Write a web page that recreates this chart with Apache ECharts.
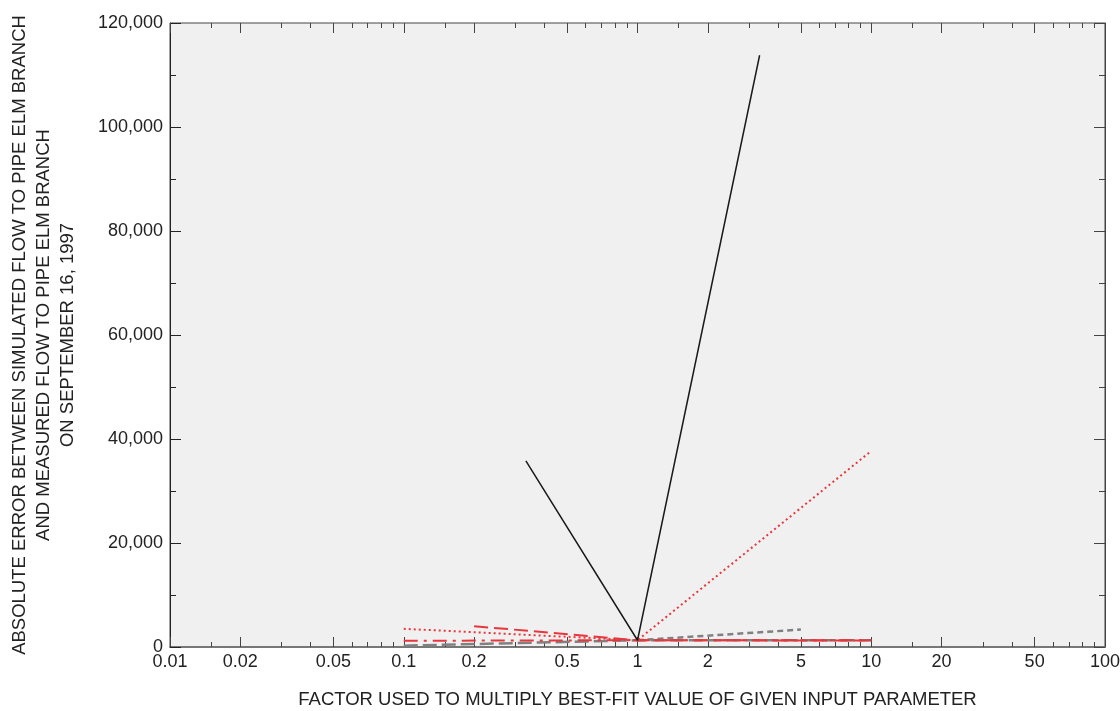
<!DOCTYPE html>
<html><head><meta charset="utf-8">
<script src="https://cdn.jsdelivr.net/npm/echarts@6/dist/echarts.min.js"></script>
<style>html,body{margin:0;padding:0;background:#fff}#c{width:1120px;height:711px}</style>
</head><body><div id="c"></div>
<script>
// ---- data ----
const majorTickLabels = [0.01, 0.02, 0.05, 0.1, 0.2, 0.5, 1, 2, 5, 10, 20, 50, 100];
const minorTicks = [0.015,0.03,0.04,0.06,0.07,0.08,0.09,0.15,0.3,0.4,0.6,0.7,0.8,0.9,1.5,3,4,6,7,8,9,15,30,40,60,70,80,90];

const blackSolidX = [0.333, 1, 3.33];
const blackSolidY = [35800, 1300, 113800];
const redDottedX = [0.1, 1, 10];
const redDottedY = [3500, 1300, 37700];
const redDashedX = [0.2, 1, 10];
const redDashedY = [4000, 1300, 1250];
const redDashDotX = [0.1, 1, 10];
const redDashDotY = [1200, 1300, 1300];
const grayLongDashX = [0.1, 1, 10];
const grayLongDashY = [250, 1300, 1300];
const grayShortDashX = [1, 5];
const grayShortDashY = [1300, 3350];

const pairs = (xs, ys) => xs.map((x, i) => [x, ys[i]]);
const FONT = '"Liberation Sans", Arial, sans-serif';
const fmtNum = v => String(+(+v).toPrecision(3));

const chart = echarts.init(document.getElementById('c'), null, {renderer: 'canvas'});
const baseX = {
  type: 'log', logBase: 10, min: 0.01, max: 100, gridIndex: 0,
  splitLine: {show: false}, minorTick: {show: false}, minorSplitLine: {show: false}
};
const option = {
  animation: false,
  backgroundColor: '#ffffff',
  grid: {left: 170, right: 15, top: 23, bottom: 64, show: true, backgroundColor: '#f0f0f0', borderColor: '#444', borderWidth: 1,
    containLabel: false, outerBoundsMode: 'none'},
  xAxis: [
    Object.assign({}, baseX, {
      position: 'bottom',
      name: 'FACTOR USED TO MULTIPLY BEST-FIT VALUE OF GIVEN INPUT PARAMETER',
      nameLocation: 'middle', nameGap: 43,
      nameTextStyle: {fontFamily: FONT, fontSize: 18.5, color: '#222'},
      axisLine: {show: true, lineStyle: {color: '#777', width: 2}},
      axisTick: {show: true, inside: true, length: 10, customValues: majorTickLabels, lineStyle: {color: '#444', width: 1}},
      axisLabel: {show: true, customValues: majorTickLabels, margin: 6, formatter: fmtNum, fontFamily: FONT, fontSize: 18, color: '#222'}
    }),
    Object.assign({}, baseX, {
      position: 'bottom',
      axisLine: {show: false},
      axisTick: {show: true, inside: true, length: 5, customValues: minorTicks, lineStyle: {color: '#444', width: 1}},
      axisLabel: {show: false}
    }),
    Object.assign({}, baseX, {
      position: 'top',
      axisLine: {show: false},
      axisTick: {show: true, inside: true, length: 10, customValues: majorTickLabels, lineStyle: {color: '#444', width: 1}},
      axisLabel: {show: false}
    }),
    Object.assign({}, baseX, {
      position: 'top',
      axisLine: {show: false},
      axisTick: {show: true, inside: true, length: 5, customValues: minorTicks, lineStyle: {color: '#444', width: 1}},
      axisLabel: {show: false}
    })
  ],
  yAxis: [
    {
      type: 'value', min: 0, max: 120000, interval: 20000, position: 'left',
      name: 'ABSOLUTE ERROR BETWEEN SIMULATED FLOW TO PIPE ELM BRANCH\nAND MEASURED FLOW TO PIPE ELM BRANCH\nON SEPTEMBER 16, 1997',
      nameLocation: 'middle', nameGap: 90, nameRotate: 90,
      nameTextStyle: {fontFamily: FONT, fontSize: 18.5, color: '#222', lineHeight: 24, align: 'center'},
      axisLine: {show: true, lineStyle: {color: '#222', width: 1}},
      axisTick: {show: true, inside: true, length: 11, lineStyle: {color: '#222'}},
      minorTick: {show: true, splitNumber: 2, length: 6, lineStyle: {color: '#222'}},
      axisLabel: {margin: 7, fontFamily: FONT, fontSize: 18, color: '#222',
        formatter: v => v.toLocaleString('en-US')},
      splitLine: {show: false}
    },
    {
      type: 'value', min: 0, max: 120000, interval: 20000, position: 'right',
      axisLine: {show: true, lineStyle: {color: '#444', width: 1}},
      axisTick: {show: true, inside: true, length: 11, lineStyle: {color: '#444'}},
      minorTick: {show: true, splitNumber: 2, length: 6, lineStyle: {color: '#444'}},
      axisLabel: {show: false}, splitLine: {show: false}
    }
  ],
  series: [
    {type: 'line', name: 'gray long dash', data: pairs(grayLongDashX, grayLongDashY), symbol: 'none',
      lineStyle: {color: '#808080', width: 2.5, type: [14, 5]}},
    {type: 'line', name: 'gray short dash', data: pairs(grayShortDashX, grayShortDashY), symbol: 'none',
      lineStyle: {color: '#808080', width: 2.5, type: [6, 4]}},
    {type: 'line', name: 'red dash dot', data: pairs(redDashDotX, redDashDotY), symbol: 'none',
      lineStyle: {color: '#e8363c', width: 2, type: [14, 6, 3, 6]}},
    {type: 'line', name: 'red dashed', data: pairs(redDashedX, redDashedY), symbol: 'none',
      lineStyle: {color: '#e8363c', width: 2, type: [14, 6]}},
    {type: 'line', name: 'red dotted', data: pairs(redDottedX, redDottedY), symbol: 'none',
      lineStyle: {color: '#e8363c', width: 2, type: [2, 3]}},
    {type: 'line', name: 'black solid', data: pairs(blackSolidX, blackSolidY), symbol: 'none',
      lineStyle: {color: '#1a1a1a', width: 1.5, type: 'solid'}}
  ]
};
chart.setOption(option);
</script></body></html>
